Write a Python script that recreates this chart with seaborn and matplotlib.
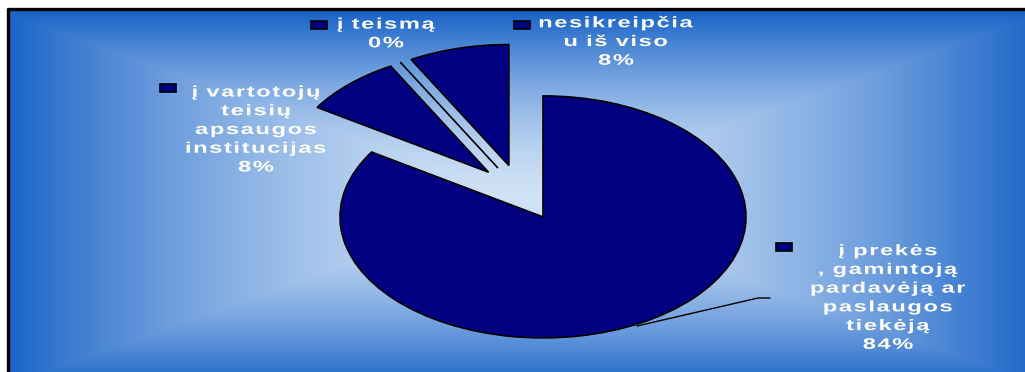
import numpy as np
import matplotlib
matplotlib.use("Agg")
import matplotlib.pyplot as plt
from matplotlib.patches import Rectangle
from matplotlib.patheffects import AbstractPathEffect
from matplotlib.path import Path
from matplotlib.transforms import IdentityTransform
import seaborn as sns

# Survey answers: where respondents turn with a complaint
categories = [
    "į prekės\n, gamintoją\npardavėją ar\npaslaugos\ntiekėją",
    "į vartotojų\nteisių\napsaugos\ninstitucijas",
    "į teismą",
    "nesikreipčia\nu iš viso",
]
shares = [84, 8, 0, 8]

sns.set_theme(style="white")
plt.rcParams["font.family"] = ["Liberation Sans", "DejaVu Sans"]


class Tracking(AbstractPathEffect):
    """Widen each text line: stretch glyphs and add letter spacing."""

    def __init__(self, stretch=1.5, gap=2.0):
        super().__init__()
        self.stretch = stretch
        self.gap = gap

    def draw_path(self, renderer, gc, tpath, affine, rgbFace=None):
        verts = affine.transform(tpath.vertices)
        codes = tpath.codes
        if codes is None or len(verts) == 0:
            renderer.draw_path(gc, tpath, affine, rgbFace)
            return
        real = codes != Path.CLOSEPOLY
        starts = np.where(codes == Path.MOVETO)[0]
        ends = list(starts[1:]) + [len(codes)]
        spans = []
        for a, b in zip(starts, ends):
            m = real[a:b]
            xs = verts[a:b, 0][m]
            spans.append((xs.min(), xs.max()) if len(xs) else (0.0, 0.0))
        # group overlapping contours into glyphs
        order = np.argsort([s[0] for s in spans])
        cluster = np.zeros(len(spans), dtype=int)
        c, right = -1, -np.inf
        for k in order:
            x0, x1 = spans[k]
            if x0 > right - 0.3:
                c += 1
                right = x1
            else:
                right = max(right, x1)
            cluster[k] = c
        n = c + 1
        xs_all = verts[real, 0]
        cx = 0.5 * (xs_all.min() + xs_all.max())
        new = verts.copy()
        new[:, 0] = cx + self.stretch * (verts[:, 0] - cx)
        for (a, b), k in zip(zip(starts, ends), cluster):
            new[a:b, 0] += (k - (n - 1) / 2) * self.gap
        renderer.draw_path(gc, Path(new, codes), IdentityTransform(), rgbFace)


W, H = 1025, 372
fig = plt.figure(figsize=(W / 100, H / 100), dpi=100)
fig.patch.set_facecolor("white")

# ---- background panel with rectangular "from centre" gradient ----
bg = fig.add_axes([0, 0, 1, 1])
bg.set_xlim(0, W)
bg.set_ylim(H, 0)
bg.axis("off")

px0, py0, px1, py1 = 8, 9, 1040, 382
gx, gy = np.meshgrid(np.arange(px0, px1) + 0.5, np.arange(py0, py1) + 0.5)
gcx, gcy = (px0 + px1) / 2, (py0 + py1) / 2 + 4
t = np.maximum(np.abs(gx - gcx) / ((px1 - px0) / 2), np.abs(gy - gcy) / ((py1 - py0) / 2))
t = np.clip(t, 0, 1) ** 1.6
inner = np.array([208, 226, 246]) / 255
outer = np.array([26, 100, 200]) / 255
img = inner[None, None, :] * (1 - t[..., None]) + outer[None, None, :] * t[..., None]
bg.imshow(img, extent=(px0, px1, py1, py0), interpolation="bilinear", zorder=0)
bg.plot([8, 8], [8, H + 5], color="black", lw=2.4, solid_capstyle="butt", zorder=1)
bg.plot([7, W + 5], [9, 9], color="black", lw=2.4, solid_capstyle="butt", zorder=1)

# ---- pie (elliptical, every slice pulled out from the centre) ----
cx, cy = 520.5, 192.5   # pie centre, pixels from top-left
rx, ry = 203, 121       # horizontal / vertical radius in pixels
ax = fig.add_axes([0, 0, 1, 1])
ax.patch.set_alpha(0)
navy = sns.color_palette(["#000080"])[0]
ax.pie(
    shares,
    startangle=90,
    counterclock=False,
    explode=[0.23] * len(shares),
    colors=[navy] * len(shares),
    wedgeprops=dict(edgecolor="black", linewidth=1.2),
)
ax.set_aspect("auto")
ax.set_xlim(-cx / rx, (W - cx) / rx)
ax.set_ylim((cy - H) / ry, cy / ry)
ax.axis("off")

# ---- data labels with legend keys ----
lab = fig.add_axes([0, 0, 1, 1])
lab.patch.set_alpha(0)
lab.set_xlim(0, W)
lab.set_ylim(H, 0)
lab.axis("off")

label_pos = [(888, 298), (256, 130), (386, 34), (616, 42)]
key_pos = [(776, 243), (160, 84), (311, 21), (514, 21)]
for name, val, (tx, ty), (kx, ky) in zip(categories, shares, label_pos, key_pos):
    lab.text(tx, ty, f"{name}\n{val}%", color="white", fontsize=11, fontweight="bold",
             ha="center", va="center", multialignment="center", linespacing=1.43,
             path_effects=[Tracking(1.55, 1.6)])
    lab.add_patch(Rectangle((kx, ky), 16, 8, facecolor=navy, edgecolor="black", lw=1.2))

# leader line from the largest slice to its label
lab.plot([770, 758, 637], [298, 298, 326], color="black", lw=1.0)

fig.savefig("out.png", dpi=100)
